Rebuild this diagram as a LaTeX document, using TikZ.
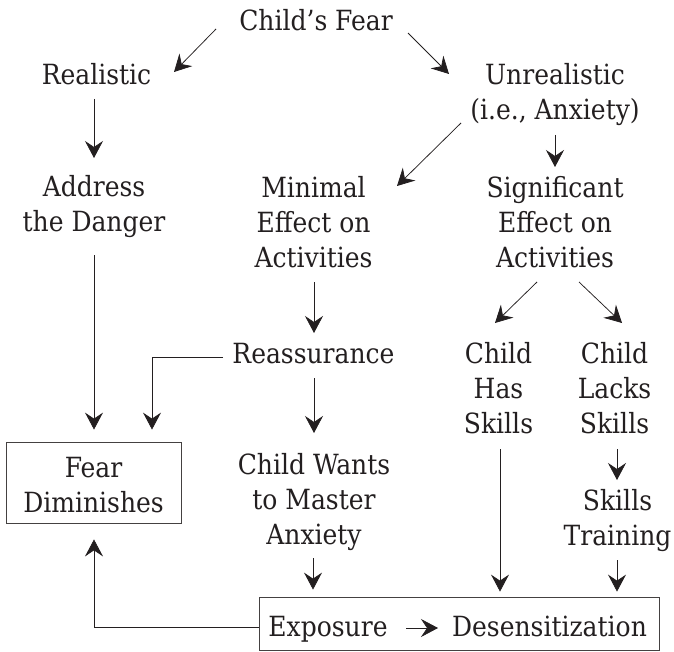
\documentclass[tikz,border=0pt]{standalone}
\usepackage{fontspec}
\setmainfont{DejaVu Serif Condensed}
\usetikzlibrary{arrows.meta,calc}
\definecolor{ink}{HTML}{231F20}
\begin{document}
\begin{tikzpicture}[x=1pt,y=-1pt,
  lbl/.style={inner sep=0pt,anchor=base,align=center,text=ink,
    font=\fontsize{27.8}{35}\selectfont},
  boxed/.style={draw=ink!85,line width=0.8pt,inner sep=0pt},
  arr/.style={draw=ink,line width=0.75pt,-{Stealth[length=17pt,width=18pt,inset=6pt]}}]
\useasboundingbox (0,0) rectangle (674,652);
% text nodes (anchor base = baseline of the last line)
\node[lbl] (fear) at (316,31) {Child’s Fear};
\node[lbl] (real) at (96.5,85) {Realistic};
\node[lbl] (unreal) at (555,120) {Unrealistic\\(i.e., Anxiety)};
\node[lbl] (addr) at (94,232) {Address\\the Danger};
\node[lbl] (minimal) at (313.5,267) {Minimal\\Effect on\\Activities};
\node[lbl] (signif) at (555,267) {Significant\\Effect on\\Activities};
\node[lbl] (reass) at (313.5,363) {Reassurance};
\node[lbl] (has) at (498.5,433) {Child\\Has\\Skills};
\node[lbl] (lacks) at (614.5,433) {Child\\Lacks\\Skills};
\node[boxed,minimum width=175pt,minimum height=81pt] (dimin) at (93.5,482.5) {};
\node[lbl] (dimintext) at (93.5,512) {Fear\\Diminishes};
\node[lbl] (wants) at (314,544) {Child Wants\\to Master\\Anxiety};
\node[lbl] (training) at (617.5,545) {Skills\\Training};
\node[boxed,minimum width=400pt,minimum height=53pt] (expbox) at (459,623.5) {};
\node[lbl] (expo) at (328,636) {Exposure};
\node[lbl] (desens) at (549.5,636) {Desensitization};
% connectors
\draw[arr] ($(fear.base)+(-100,-2)$) -- ($(real.base)+(77.5,-13)$);
\draw[arr] ($(fear.base)+(92,2)$) -- ($(unreal.base)+(-106,-46)$);
\draw[arr] ($(real.base)+(-2.5,14)$) -- ($(addr.base)+(0,-74)$);
\draw[arr] ($(unreal.base)+(-94,3)$) -- ($(minimal.base)+(83.5,-81)$);
\draw[arr] ($(unreal.base)+(0,15)$) -- ($(signif.base)+(0,-100)$);
\draw[arr] ($(addr.base)+(0,23)$) -- ($(dimin.north)+(0.5,-12)$);
\draw[arr] ($(reass.base)+(-90.5,-6)$) -| ($(dimin.north)+(58.5,-12)$);
\draw[arr] ($(minimal.base)+(0.5,15)$) -- ($(reass.base)+(0.5,-30)$);
\draw[arr] ($(reass.base)+(0.5,15)$) -- ($(wants.base)+(0,-111)$);
\draw[arr] ($(signif.base)+(-18,15)$) -- ($(has.base)+(-3.5,-110)$);
\draw[arr] ($(signif.base)+(24,15)$) -- ($(lacks.base)+(7.5,-110)$);
\draw[arr] ($(lacks.base)+(2.5,16)$) -- ($(training.base)+(-0.5,-65)$);
\draw[arr] ($(wants.base)+(-1,14)$) -- ($(expbox.north)+(-146,-7)$);
\draw[arr] ($(has.base)+(1.5,16)$) -- ($(expbox.north)+(41,-5)$);
\draw[arr] ($(training.base)+(-0.5,15)$) -- ($(expbox.north)+(158,-5)$);
\draw[arr] ($(expbox.west)+(0,3.5)$) -| ($(dimin.south)+(0.5,16)$);
\draw[arr] ($(expo.base)+(78,-8)$) -- ($(desens.base)+(-111.5,-8)$);
\end{tikzpicture}
\end{document}
